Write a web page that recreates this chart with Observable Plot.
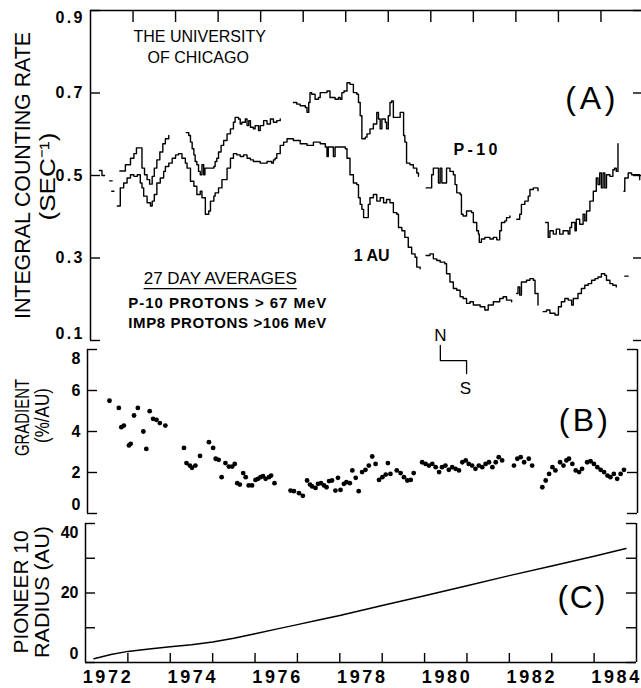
<!DOCTYPE html>
<html><head><meta charset="utf-8">
<script src="https://cdn.jsdelivr.net/npm/d3@7"></script>
<script src="https://cdn.jsdelivr.net/npm/@observablehq/plot@0.6"></script>
<style>
html,body{margin:0;padding:0;background:#fff;}
#chart{position:relative;width:641px;height:688px;overflow:hidden;background:#fff;}
#chart svg{position:absolute;left:0;}
</style></head><body><div id="chart"></div>
<script>
// ---------- axes / ticks ----------
const yearDomain = [1972, 1985];
const yearTicks = [1973,1974,1975,1976,1977,1978,1979,1980,1981,1982,1983,1984];
const yearLabels = [1972,1974,1976,1978,1980,1982,1984];
const rateDomain = [0.1, 0.9];
const rateTicks = [0.1,0.3,0.5,0.7,0.9];
const rateTickLabels = ["0.1","0.3","0.5","0.7","0.9"];
const gradDomain = [0, 8];
const gradTicks = [0,2,4,6,8];
const gradTickLabels = ["0","2","4","6","8"];
const radiusDomain = [0, 40];
const radiusTicks = [0,10,20,30,40];
const radiusLabelTicks = [0,20,40];
const radiusTickLabels = ["0","20","40"];

// ---------- (A) 27-day average counting rates, segments [year, rate] ----------
const p10Segments = [
 [[1972.21,0.512],[1972.27,0.500],[1972.33,0.500]],
 [[1972.69,0.511],[1972.82,0.526],[1972.94,0.542],[1973.02,0.553],[1973.08,0.567],[1973.17,0.567],[1973.21,0.518],[1973.27,0.502],[1973.33,0.490],[1973.39,0.479],[1973.45,0.498],[1973.50,0.518],[1973.56,0.538],[1973.63,0.557],[1973.70,0.577],[1973.76,0.589],[1973.84,0.597]],
 [[1974.25,0.604],[1974.31,0.597],[1974.35,0.581],[1974.39,0.565],[1974.43,0.550],[1974.46,0.534],[1974.50,0.526],[1974.54,0.510],[1974.58,0.502],[1974.62,0.526],[1974.66,0.502],[1974.69,0.518],[1974.82,0.518],[1974.90,0.522],[1974.93,0.534],[1974.97,0.542],[1975.01,0.557],[1975.07,0.573],[1975.13,0.585],[1975.21,0.601],[1975.29,0.613],[1975.36,0.629],[1975.40,0.641],[1975.48,0.637],[1975.52,0.625],[1975.56,0.629],[1975.64,0.637],[1975.68,0.621],[1975.72,0.633],[1975.76,0.617],[1975.83,0.613],[1975.87,0.621],[1975.95,0.609],[1975.99,0.621],[1976.07,0.633],[1976.15,0.625],[1976.23,0.637],[1976.30,0.629],[1976.38,0.633],[1976.46,0.637]],
 [[1976.77,0.677],[1976.85,0.673],[1976.93,0.669],[1977.05,0.665],[1977.09,0.653],[1977.13,0.677],[1977.16,0.701],[1977.20,0.697],[1977.28,0.685],[1977.36,0.689],[1977.40,0.701],[1977.56,0.705],[1977.63,0.689],[1977.75,0.685],[1977.83,0.689],[1977.87,0.685],[1977.91,0.701],[1977.96,0.705],[1978.03,0.725],[1978.10,0.721],[1978.18,0.701],[1978.26,0.697],[1978.30,0.677],[1978.34,0.645],[1978.38,0.589],[1978.46,0.593],[1978.50,0.601],[1978.57,0.613],[1978.65,0.625],[1978.73,0.653],[1978.77,0.637],[1978.81,0.613],[1978.85,0.637],[1978.93,0.629],[1978.96,0.613],[1979.00,0.645],[1979.04,0.677],[1979.08,0.681],[1979.12,0.641],[1979.20,0.641],[1979.28,0.653],[1979.36,0.597],[1979.39,0.581],[1979.43,0.530],[1979.51,0.526],[1979.59,0.518],[1979.67,0.506],[1979.71,0.498]],
 [[1979.89,0.470],[1979.98,0.470],[1980.02,0.502],[1980.06,0.518],[1980.14,0.518],[1980.18,0.482],[1980.22,0.518],[1980.26,0.482],[1980.33,0.482],[1980.37,0.518],[1980.45,0.510],[1980.53,0.502],[1980.57,0.478],[1980.61,0.458],[1980.69,0.454],[1980.72,0.406],[1980.76,0.402],[1980.84,0.414],[1980.96,0.410],[1981.00,0.386],[1981.08,0.366],[1981.12,0.358],[1981.14,0.338],[1981.19,0.346],[1981.27,0.350],[1981.39,0.346],[1981.47,0.350],[1981.55,0.344],[1981.62,0.366],[1981.66,0.386],[1981.74,0.390],[1981.78,0.398],[1981.86,0.402]],
 [[1982.02,0.394],[1982.09,0.406],[1982.13,0.430],[1982.21,0.438],[1982.29,0.450],[1982.33,0.466],[1982.41,0.470],[1982.52,0.463]],
 [[1982.70,0.386],[1982.76,0.350],[1982.80,0.366],[1982.88,0.358],[1982.95,0.370],[1983.03,0.358],[1983.11,0.366],[1983.23,0.358],[1983.27,0.374],[1983.31,0.386],[1983.39,0.366],[1983.42,0.394],[1983.50,0.382],[1983.58,0.406],[1983.62,0.390],[1983.66,0.414],[1983.74,0.438],[1983.82,0.462],[1983.89,0.494],[1983.93,0.478],[1983.97,0.506],[1984.01,0.470],[1984.05,0.506],[1984.09,0.470],[1984.13,0.502],[1984.21,0.498],[1984.28,0.514],[1984.32,0.518],[1984.36,0.510],[1984.40,0.577]],
 [[1984.54,0.462],[1984.56,0.494],[1984.64,0.506],[1984.72,0.502],[1984.91,0.490]]
];
const auSegments = [
 [[1972.45,0.487],[1972.51,0.487]],
 [[1972.50,0.462],[1972.55,0.462]],
 [[1972.63,0.426],[1972.70,0.470],[1972.78,0.482],[1972.86,0.494],[1972.94,0.502],[1973.02,0.498],[1973.10,0.502],[1973.17,0.482],[1973.21,0.470],[1973.25,0.450],[1973.33,0.434],[1973.41,0.426],[1973.45,0.438],[1973.50,0.454],[1973.56,0.482],[1973.64,0.494],[1973.72,0.510],[1973.76,0.522],[1973.84,0.530],[1973.92,0.542],[1974.00,0.550],[1974.07,0.553],[1974.15,0.542],[1974.23,0.530],[1974.27,0.518],[1974.35,0.486],[1974.43,0.474],[1974.50,0.454],[1974.58,0.462],[1974.62,0.446],[1974.70,0.406],[1974.78,0.414],[1974.82,0.438],[1974.90,0.450],[1974.93,0.458],[1975.01,0.470],[1975.09,0.490],[1975.21,0.518],[1975.29,0.542],[1975.36,0.553],[1975.44,0.550],[1975.52,0.546],[1975.60,0.550],[1975.68,0.542],[1975.76,0.538],[1975.83,0.534],[1975.91,0.534],[1975.99,0.530],[1976.15,0.534],[1976.26,0.530],[1976.30,0.538],[1976.34,0.542],[1976.38,0.553],[1976.46,0.573],[1976.54,0.581],[1976.62,0.589],[1976.77,0.585],[1976.93,0.577],[1977.09,0.573],[1977.24,0.581],[1977.40,0.577],[1977.52,0.569],[1977.56,0.546],[1977.59,0.569],[1977.71,0.546],[1977.75,0.569],[1977.99,0.565],[1978.03,0.542],[1978.10,0.502],[1978.18,0.482],[1978.26,0.478],[1978.30,0.446],[1978.34,0.430],[1978.38,0.418],[1978.42,0.398],[1978.50,0.398],[1978.53,0.430],[1978.57,0.446],[1978.65,0.454],[1978.73,0.438],[1978.81,0.446],[1978.89,0.434],[1978.96,0.442],[1979.04,0.434],[1979.12,0.410],[1979.20,0.406],[1979.24,0.374],[1979.32,0.366],[1979.39,0.350],[1979.47,0.326],[1979.55,0.310],[1979.63,0.302],[1979.67,0.278],[1979.75,0.274]],
 [[1979.89,0.306],[1979.98,0.310],[1980.06,0.298],[1980.14,0.294],[1980.22,0.290],[1980.33,0.286],[1980.37,0.262],[1980.45,0.242],[1980.53,0.226],[1980.61,0.222],[1980.69,0.206],[1980.76,0.202],[1980.84,0.190],[1980.92,0.194],[1981.00,0.186],[1981.16,0.182],[1981.27,0.174],[1981.35,0.186],[1981.47,0.194],[1981.62,0.202],[1981.70,0.206],[1981.78,0.198],[1981.90,0.194]],
 [[1982.02,0.214],[1982.05,0.230],[1982.09,0.210],[1982.13,0.242],[1982.25,0.246],[1982.33,0.250],[1982.41,0.246],[1982.45,0.214],[1982.52,0.186]],
 [[1982.64,0.170],[1982.72,0.174],[1982.80,0.166],[1982.92,0.162],[1983.00,0.182],[1983.07,0.194],[1983.15,0.202],[1983.23,0.198],[1983.31,0.186],[1983.35,0.202],[1983.46,0.214],[1983.54,0.226],[1983.62,0.234],[1983.70,0.238],[1983.78,0.246],[1983.86,0.250],[1983.93,0.254],[1984.01,0.262],[1984.09,0.258],[1984.13,0.246],[1984.21,0.238],[1984.28,0.234],[1984.36,0.230]],
 [[1984.56,0.256],[1984.64,0.256]]
];

// ---------- (B) gradient, [year, %/AU] ----------
const gradient = [
 [1972.52,5.50],[1972.74,5.15],[1972.80,4.21],[1972.86,4.29],[1972.98,3.32],[1973.02,3.40],[1973.10,4.78],[1973.19,5.15],[1973.32,4.00],[1973.39,3.15],[1973.47,4.99],[1973.55,4.62],[1973.63,4.57],[1973.71,4.41],[1973.84,4.29],
 [1974.28,3.20],[1974.34,2.46],[1974.42,2.34],[1974.47,2.23],[1974.55,2.34],[1974.66,2.81],[1974.87,3.48],[1974.97,3.20],[1975.03,2.67],[1975.10,2.62],[1975.17,1.77],[1975.26,2.46],[1975.34,2.29],[1975.42,2.29],[1975.48,2.42],[1975.54,1.48],[1975.60,1.41],[1975.68,1.97],[1975.74,1.77],[1975.81,1.37],[1975.89,1.37],[1975.97,1.64],[1976.03,1.69],[1976.09,1.77],[1976.15,1.82],[1976.21,1.69],[1976.29,1.77],[1976.34,1.85],[1976.42,1.48],
 [1976.80,1.12],[1976.88,1.09],[1977.00,0.99],[1977.09,0.86],[1977.19,1.61],[1977.26,1.41],[1977.31,1.32],[1977.39,1.25],[1977.45,1.45],[1977.52,1.48],[1977.59,1.37],[1977.65,1.28],[1977.71,1.58],[1977.78,1.61],[1977.86,1.12],[1977.92,1.74],[1977.98,1.15],[1978.06,1.45],[1978.12,1.53],[1978.20,1.48],[1978.26,2.10],[1978.34,1.74],[1978.41,1.09],
 [1978.49,2.02],[1978.57,2.13],[1978.65,2.34],[1978.73,2.78],[1978.81,2.42],[1978.89,1.64],[1978.97,1.77],[1979.05,1.90],[1979.10,2.46],[1979.16,1.93],[1979.31,2.10],[1979.40,1.97],[1979.48,1.77],[1979.56,1.61],[1979.64,1.64],[1979.71,1.97],
 [1979.91,2.50],[1979.99,2.42],[1980.07,2.34],[1980.15,2.42],[1980.23,2.26],[1980.31,2.02],[1980.38,2.26],[1980.46,2.34],[1980.54,2.13],[1980.62,2.26],[1980.70,2.18],[1980.78,2.10],[1980.86,2.50],[1980.94,2.59],[1981.01,2.42],[1981.09,2.34],[1981.17,2.18],[1981.25,2.34],[1981.33,2.26],[1981.41,2.42],[1981.49,2.50],[1981.57,2.26],[1981.65,2.50],[1981.72,2.75],[1981.80,2.59],
 [1982.08,2.34],[1982.16,2.67],[1982.24,2.75],[1982.32,2.50],[1982.43,2.67],[1982.51,2.34],
 [1982.75,1.28],[1982.83,1.61],[1982.91,1.93],[1982.99,2.26],[1983.06,2.10],[1983.17,2.50],[1983.25,2.34],[1983.32,2.59],[1983.38,2.67],[1983.46,2.42],[1983.54,2.10],[1983.62,2.02],[1983.69,2.18],[1983.81,2.50],[1983.89,2.55],[1983.97,2.42],[1984.05,2.26],[1984.13,2.13],[1984.21,2.02],[1984.29,1.85],[1984.36,1.77],[1984.44,1.93],[1984.52,1.69],[1984.60,1.93],[1984.68,2.13]
];

// ---------- (C) Pioneer 10 heliocentric radius, [year, AU] ----------
const radius = [
 [1972.2,1.1],[1972.6,2.3],[1973.0,3.2],[1973.5,3.9],[1974.0,4.5],[1974.5,5.1],[1975.0,5.9],[1975.5,7.0],[1976.0,8.3],[1976.5,9.6],[1977.0,10.9],[1977.5,12.2],[1978.0,13.5],[1979.0,16.4],[1980.0,19.2],[1981.0,22.1],[1982.0,25.0],[1983.0,27.8],[1984.0,30.6],[1984.75,32.8]
];

// N -> S polarity marker (year of bracket legs)
const polarityYears = [1980.34, 1980.96];

// ---------- helpers ----------
const FONT = "'Liberation Sans', Arial, Helvetica, sans-serif";
const baseStyle = {background: "transparent", overflow: "visible", maxWidth: "none", fontFamily: FONT, color: "black"};
const toRows = (segs, a, b) => segs.flatMap((s, i) => s.map(([x, y]) => ({[a]: x, [b]: y, seg: i})));

function yTickMarks(values, W, len) {
  return [
    Plot.tickY(values, {y: d => d, insetRight: W - len, strokeWidth: 1.4}),
    Plot.tickY(values, {y: d => d, insetLeft: W - len, strokeWidth: 1.4})
  ];
}
function yTickLabels(values, labels, dx, nudge, fontSize) {
  const rows = values.map((v, i) => ({v, t: labels[i]}));
  const lo = d3.min(values), hi = d3.max(values);
  const c = {frameAnchor: "left", y: "v", text: "t", textAnchor: "end", lineAnchor: "middle", dx, fontSize, fontWeight: "bold"};
  return [
    Plot.text(rows.filter(r => r.v === lo), {...c, dy: -nudge}),
    Plot.text(rows.filter(r => r.v !== lo && r.v !== hi), c),
    Plot.text(rows.filter(r => r.v === hi), {...c, dy: nudge})
  ];
}
const title = (t, dx, dy, fontSize) => Plot.text([t], {text: d => d, frameAnchor: "left", textAnchor: "middle", lineAnchor: "middle", dx, dy, rotate: -90, fontSize});

const chart = document.getElementById("chart");
function place(svg, top) { svg.style.top = top + "px"; chart.append(svg); return svg; }

// ---------- Panel A ----------
const A = {width: 643, height: 345, mt: 10, mb: 5, ml: 90, mr: 0};
const WA = A.width - A.ml - A.mr, HA = A.height - A.mt - A.mb;
const svgA = Plot.plot({
  width: A.width, height: A.height, marginTop: A.mt, marginBottom: A.mb, marginLeft: A.ml, marginRight: A.mr,
  style: baseStyle,
  x: {domain: yearDomain, axis: null},
  y: {domain: rateDomain, axis: null},
  marks: [
    Plot.ruleX(yearDomain, {strokeWidth: 1.5}),
    Plot.ruleY([rateDomain[1]], {strokeWidth: 1.5}),
    ...yTickMarks(rateTicks, WA, 10),
    Plot.tickX(yearTicks, {x: d => d, insetBottom: HA - 12, strokeWidth: 1.4}),
    ...yTickLabels(rateTicks, rateTickLabels, -8, 7, 16),
    title("INTEGRAL COUNTING RATE", -68, 0, 22),
    title("(SEC⁻¹)", -43, 1, 22),
    Plot.line(toRows(p10Segments, "year", "rate"), {x: "year", y: "rate", z: "seg", curve: "step-after", stroke: "black", strokeWidth: 1.4}),
    Plot.line(toRows(auSegments, "year", "rate"), {x: "year", y: "rate", z: "seg", curve: "step-after", stroke: "black", strokeWidth: 1.4}),
    Plot.text(["THE UNIVERSITY"], {text: d => d, x: 1973.01, y: 0.835, textAnchor: "start", fontSize: 16}),
    Plot.text(["OF CHICAGO"], {text: d => d, x: 1973.34, y: 0.786, textAnchor: "start", fontSize: 16}),
    Plot.text(["27 DAY AVERAGES"], {text: d => d, x: 1973.25, y: 0.250, textAnchor: "start", fontSize: 17}),
    Plot.text(["P-10 PROTONS > 67 MeV"], {text: d => d, x: 1972.89, y: 0.190, textAnchor: "start", fontSize: 15, fontWeight: "bold"}),
    Plot.text(["IMP8 PROTONS >106 MeV"], {text: d => d, x: 1972.89, y: 0.141, textAnchor: "start", fontSize: 15, fontWeight: "bold"}),
    Plot.text(["P-10"], {text: d => d, x: 1981.05, y: 0.561, fontSize: 16, fontWeight: "bold"}),
    Plot.text(["1 AU"], {text: d => d, x: 1978.61, y: 0.306, fontSize: 16, fontWeight: "bold"}),
    Plot.text(["(A)"], {text: d => d, x: 1983.75, y: 0.687, fontSize: 32})
  ]
});
place(svgA, 0);

// ---------- Panel B ----------
const B = {width: 641, height: 180, mt: 10, mb: 6, ml: 87, mr: 4};
const WB = B.width - B.ml - B.mr;
const svgB = Plot.plot({
  width: B.width, height: B.height, marginTop: B.mt, marginBottom: B.mb, marginLeft: B.ml, marginRight: B.mr,
  style: baseStyle,
  x: {domain: yearDomain, axis: null},
  y: {domain: gradDomain, axis: null},
  marks: [
    Plot.ruleX(yearDomain, {strokeWidth: 1.5}),
    ...yTickMarks(gradTicks, WB, 10),
    ...yTickLabels(gradTicks, gradTickLabels, -7, 9, 16),
    title("GRADIENT", -65, -14, 21),
    title("(%/AU)", -45, -16, 21),
    Plot.dot(gradient, {x: d => d[0], y: d => d[1], r: 2.4, fill: "black", stroke: "none"}),
    Plot.line([[polarityYears[0], 8.2], [polarityYears[0], 7.46], [polarityYears[1], 7.46], [polarityYears[1], 6.83]], {x: d => d[0], y: d => d[1], stroke: "black", strokeWidth: 1.3}),
    Plot.text(["N"], {text: d => d, x: polarityYears[0], y: 8.68, fontSize: 17}),
    Plot.text(["S"], {text: d => d, x: polarityYears[1] - 0.03, y: 6.1, fontSize: 17}),
    Plot.text(["(B)"], {text: d => d, x: 1983.72, y: 4.54, fontSize: 32})
  ]
});
place(svgB, 339);

// ---------- Panel C ----------
const C = {width: 641, height: 175, mt: 10, mb: 26, ml: 85, mr: 5};
const WC = C.width - C.ml - C.mr, HC = C.height - C.mt - C.mb;
const svgC = Plot.plot({
  width: C.width, height: C.height, marginTop: C.mt, marginBottom: C.mb, marginLeft: C.ml, marginRight: C.mr,
  style: baseStyle,
  x: {domain: yearDomain, axis: null},
  y: {domain: radiusDomain, axis: null},
  marks: [
    Plot.ruleX(yearDomain, {strokeWidth: 1.5}),
    Plot.ruleY([radiusDomain[0]], {strokeWidth: 1.5}),
    ...yTickMarks(radiusTicks, WC, 10),
    Plot.tickX(yearTicks, {x: d => d, insetTop: HC - 9, strokeWidth: 1.4}),
    ...yTickLabels(radiusLabelTicks, radiusTickLabels, -7, 9, 16),
    Plot.text(yearLabels, {x: d => d + 0.5, text: d => String(d), frameAnchor: "bottom", textAnchor: "middle", lineAnchor: "middle", dy: 15, fontSize: 18, fontWeight: "bold"}),
    title("PIONEER 10", -64, -1, 21),
    title("RADIUS (AU)", -43, -1, 21),
    Plot.line(radius, {x: d => d[0], y: d => d[1], stroke: "black", strokeWidth: 1.5}),
    Plot.text(["(C)"], {text: d => d, x: 1983.70, y: 18.7, fontSize: 32})
  ]
});
place(svgC, 513);

// fit lettering widths of the scanned figure
const fit = {
  "INTEGRAL COUNTING RATE": [287, "spacingAndGlyphs"], "(SEC⁻¹)": [88, "spacingAndGlyphs"],
  "GRADIENT": [77, "spacingAndGlyphs"], "(%/AU)": [55, "spacingAndGlyphs"],
  "PIONEER 10": [123, "spacingAndGlyphs"], "RADIUS (AU)": [132, "spacingAndGlyphs"],
  "(A)": [50, "spacing"], "(B)": [49, "spacing"], "(C)": [48, "spacing"], "P-10": [44, "spacing"],
  "P-10 PROTONS > 67 MeV": [198, "spacing"], "IMP8 PROTONS >106 MeV": [198, "spacing"],
  "0.1": [27, "spacing"], "0.3": [27, "spacing"], "0.5": [27, "spacing"], "0.7": [27, "spacing"], "0.9": [27, "spacing"],
  "1972": [48, "spacing"], "1974": [48, "spacing"], "1976": [48, "spacing"], "1978": [48, "spacing"], "1980": [48, "spacing"], "1982": [48, "spacing"], "1984": [48, "spacing"]
};
const NS = "http://www.w3.org/2000/svg";
for (const svg of [svgA, svgB, svgC]) {
  svg.querySelectorAll("text").forEach(t => {
    const f = fit[t.textContent];
    if (f) { t.setAttribute("textLength", f[0]); t.setAttribute("lengthAdjust", f[1]); }
    if (t.textContent === "27 DAY AVERAGES") {
      const b = t.getBBox();
      const ln = document.createElementNS(NS, "line");
      ln.setAttribute("x1", b.x); ln.setAttribute("x2", b.x + b.width);
      ln.setAttribute("y1", b.y + b.height + 0.5); ln.setAttribute("y2", b.y + b.height + 0.5);
      ln.setAttribute("stroke", "black"); ln.setAttribute("stroke-width", "1.3");
      if (t.getAttribute("transform")) ln.setAttribute("transform", t.getAttribute("transform"));
      t.parentNode.appendChild(ln);
    }
  });
}
</script></body></html>
